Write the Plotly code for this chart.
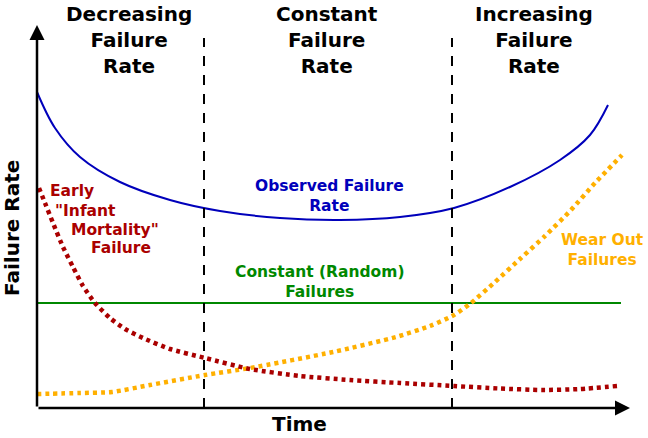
import plotly.graph_objects as go

# Data in chart units: time (horizontal) and failure rate (vertical)
observed_t = [0, 18, 43, 83, 133, 183, 243, 303, 363, 417, 473, 523, 553, 571]
observed_r = [316, 280, 251, 226, 208, 197, 190, 188, 191, 200, 221, 248, 273, 303]

early_t = [2, 8, 16, 26, 36, 46, 58, 73, 88, 106, 133, 168, 213, 263, 313, 363, 417, 463, 505, 543, 580]
early_r = [220, 205, 185, 161, 141, 122, 105, 90, 79, 70, 59, 50, 39, 32, 28, 25, 22, 19.5, 18, 19, 22]

wear_t = [0, 43, 75, 113, 168, 213, 296, 359, 393, 417, 434, 458, 484, 508, 534, 558, 585]
wear_r = [14, 15, 16, 23, 33, 40, 56, 71, 82, 93, 105, 126, 150, 172, 198, 225, 253]

constant_t = [0, 584]
constant_r = [105, 105]

phase_bounds = [167, 415]
phase_labels = ["Decreasing<br>Failure<br>Rate", "Constant<br>Failure<br>Rate", "Increasing<br>Failure<br>Rate"]
phase_centers = [92, 290, 497]

BLUE = "#0000bb"
RED = "#aa0000"
GREEN = "#008800"
ORANGE = "#ffb000"
FONT = "DejaVu Sans"

fig = go.Figure()

fig.add_trace(go.Scatter(x=constant_t, y=constant_r, mode="lines",
                         line=dict(color=GREEN, width=2), hoverinfo="skip"))
fig.add_trace(go.Scatter(x=wear_t, y=wear_r, mode="lines",
                         line=dict(color=ORANGE, width=4.5, dash="4px,4px", shape="spline", smoothing=0.6),
                         hoverinfo="skip"))
fig.add_trace(go.Scatter(x=early_t, y=early_r, mode="lines",
                         line=dict(color=RED, width=4.5, dash="4px,4px", shape="spline", smoothing=0.6),
                         hoverinfo="skip"))
fig.add_trace(go.Scatter(x=observed_t, y=observed_r, mode="lines",
                         line=dict(color=BLUE, width=2, shape="spline", smoothing=1.0),
                         hoverinfo="skip"))

# phase boundaries
for xb in phase_bounds:
    fig.add_shape(type="line", x0=xb, x1=xb, y0=0, y1=370, xref="x", yref="y",
                  line=dict(color="black", width=2, dash="10px,9px"))

# axes with arrows
fig.add_annotation(x=593, y=0, ax=0, ay=0, xref="x", yref="y", axref="x", ayref="y",
                   showarrow=True, arrowhead=2, arrowsize=1.2, arrowwidth=2.5, arrowcolor="black", text="")
fig.add_annotation(x=0, y=383, ax=0, ay=0, xref="x", yref="y", axref="x", ayref="y",
                   showarrow=True, arrowhead=2, arrowsize=1.2, arrowwidth=2.5, arrowcolor="black", text="")

# phase titles
for cx, lab in zip(phase_centers, phase_labels):
    fig.add_annotation(x=cx, y=368, text=lab, showarrow=False, xanchor="center", yanchor="middle",
                       font=dict(family=FONT, size=20, color="black", weight="bold"))

def label(x, y, text, color, anchor="center", size=15.5):
    fig.add_annotation(x=x, y=y, text=text, showarrow=False, xanchor=anchor, yanchor="middle",
                       font=dict(family=FONT, size=size, color=color, weight="bold"))

label(292, 212, "Observed Failure<br>Rate", BLUE)
label(283, 126, "Constant (Random)<br>Failures", GREEN)
label(565, 158, "Wear Out<br>Failures", ORANGE)
label(11, 217, "Early", RED, anchor="left")
label(16, 197, "\"Infant", RED, anchor="left")
label(32, 178, "Mortality\"", RED, anchor="left")
label(52, 160, "Failure", RED, anchor="left")

# axis titles
fig.add_annotation(x=262, y=-16, text="Time", showarrow=False, xanchor="center", yanchor="middle",
                   font=dict(family=FONT, size=20, color="black", weight="bold"))
fig.add_annotation(x=-25, y=180, text="Failure Rate", showarrow=False, textangle=-90,
                   xanchor="center", yanchor="middle",
                   font=dict(family=FONT, size=20, color="black", weight="bold"))

fig.update_layout(
    width=648, height=438,
    margin=dict(l=0, r=0, t=0, b=0),
    paper_bgcolor="white", plot_bgcolor="white",
    showlegend=False,
    xaxis=dict(range=[-37, 611], visible=False, fixedrange=True),
    yaxis=dict(range=[-30, 408], visible=False, fixedrange=True),
)

fig.write_html("out.html")
